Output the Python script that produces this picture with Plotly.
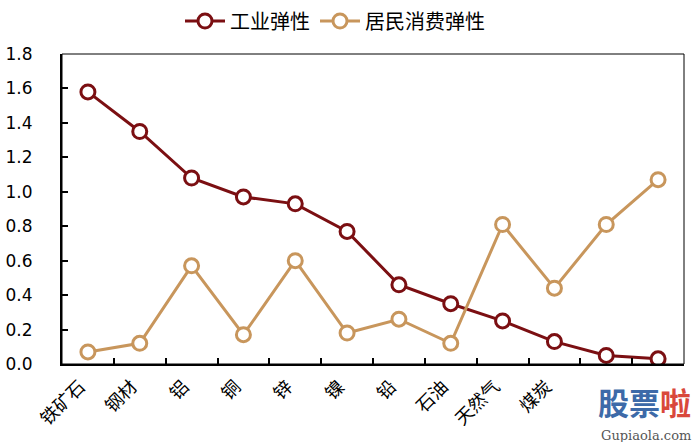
import plotly.graph_objects as go

categories = ["铁矿石", "钢材", "铝", "铜", "锌", "镍", "铅", "石油", "天然气", "煤炭", "品种11", "品种12"]
tick_labels = ["铁矿石", "钢材", "铝", "铜", "锌", "镍", "铅", "石油", "天然气", "煤炭", "", ""]
industrial = [1.58, 1.35, 1.08, 0.97, 0.93, 0.77, 0.46, 0.35, 0.25, 0.13, 0.05, 0.03]
household = [0.07, 0.12, 0.57, 0.17, 0.60, 0.18, 0.26, 0.12, 0.81, 0.44, 0.81, 1.07]
y_ticks = [0.0, 0.2, 0.4, 0.6, 0.8, 1.0, 1.2, 1.4, 1.6, 1.8]

RED = "#7B0F12"
TAN = "#C8965C"

W, H = 692, 442

fig = go.Figure()
fig.add_trace(go.Scatter(
    x=categories, y=industrial, name="工业弹性", mode="lines+markers",
    line=dict(color=RED, width=3),
    marker=dict(symbol="circle", size=14, color="white", line=dict(color=RED, width=3)),
))
fig.add_trace(go.Scatter(
    x=categories, y=household, name="居民消费弹性", mode="lines+markers",
    line=dict(color=TAN, width=3),
    marker=dict(symbol="circle", size=14, color="white", line=dict(color=TAN, width=3)),
))

fig.update_layout(
    width=W, height=H,
    margin=dict(l=62, r=8, t=54, b=78, autoexpand=False),
    paper_bgcolor="white", plot_bgcolor="white",
    showlegend=True,
    legend=dict(orientation="h", x=335 / W, xanchor="center", xref="container",
                y=1 - 21 / H, yanchor="middle", yref="container",
                font=dict(family="Noto Sans CJK SC", size=20, color="black"),
                traceorder="normal", itemwidth=40),
    font=dict(family="DejaVu Sans", color="black"),
)

fig.update_xaxes(
    type="category", categoryorder="array", categoryarray=categories,
    tickvals=categories, ticktext=tick_labels,
    tickangle=-45, tickfont=dict(family="Noto Sans CJK SC", size=18, color="black"),
    showline=True, linecolor="black", linewidth=2,
    ticks="inside", tickson="boundaries", ticklen=6, tickcolor="black", tickwidth=1.5,
    showgrid=False, zeroline=False, range=[-0.5, len(categories) - 0.5],
    ticklabelshift=-8, ticklabelstandoff=3,
)
fig.update_yaxes(
    range=[0, 1.8], tickvals=y_ticks, ticktext=[f"{v:.1f}" for v in y_ticks],
    tickfont=dict(family="DejaVu Sans", size=17, color="black"),
    showline=True, linecolor="black", linewidth=2,
    ticks="inside", ticklen=6, tickcolor="black", tickwidth=1.5,
    showgrid=False, zeroline=False, ticklabelstandoff=24,
)

# thin frame around plot area
fig.add_shape(type="rect", xref="paper", yref="paper", x0=0, y0=0, x1=1, y1=1,
              line=dict(color="black", width=1), layer="above")

# watermark
fig.add_annotation(xref="paper", yref="paper", x=1.015, y=-0.12, xanchor="right", yanchor="middle",
                   text="<b><span style='color:#3D6AA8'>股票</span><span style='color:#D9483B'>啦</span></b>",
                   showarrow=False, font=dict(family="Noto Sans CJK SC", size=31))
fig.add_annotation(xref="paper", yref="paper", x=1.015, y=-0.232, xanchor="right", yanchor="middle",
                   text="Gupiaola.com", showarrow=False,
                   font=dict(family="DejaVu Serif", size=13, color="#555555"))

fig.write_html("out.html",
               config={"displayModeBar": False},
               post_script="document.body.style.margin='0px';document.body.style.overflow='hidden';")
